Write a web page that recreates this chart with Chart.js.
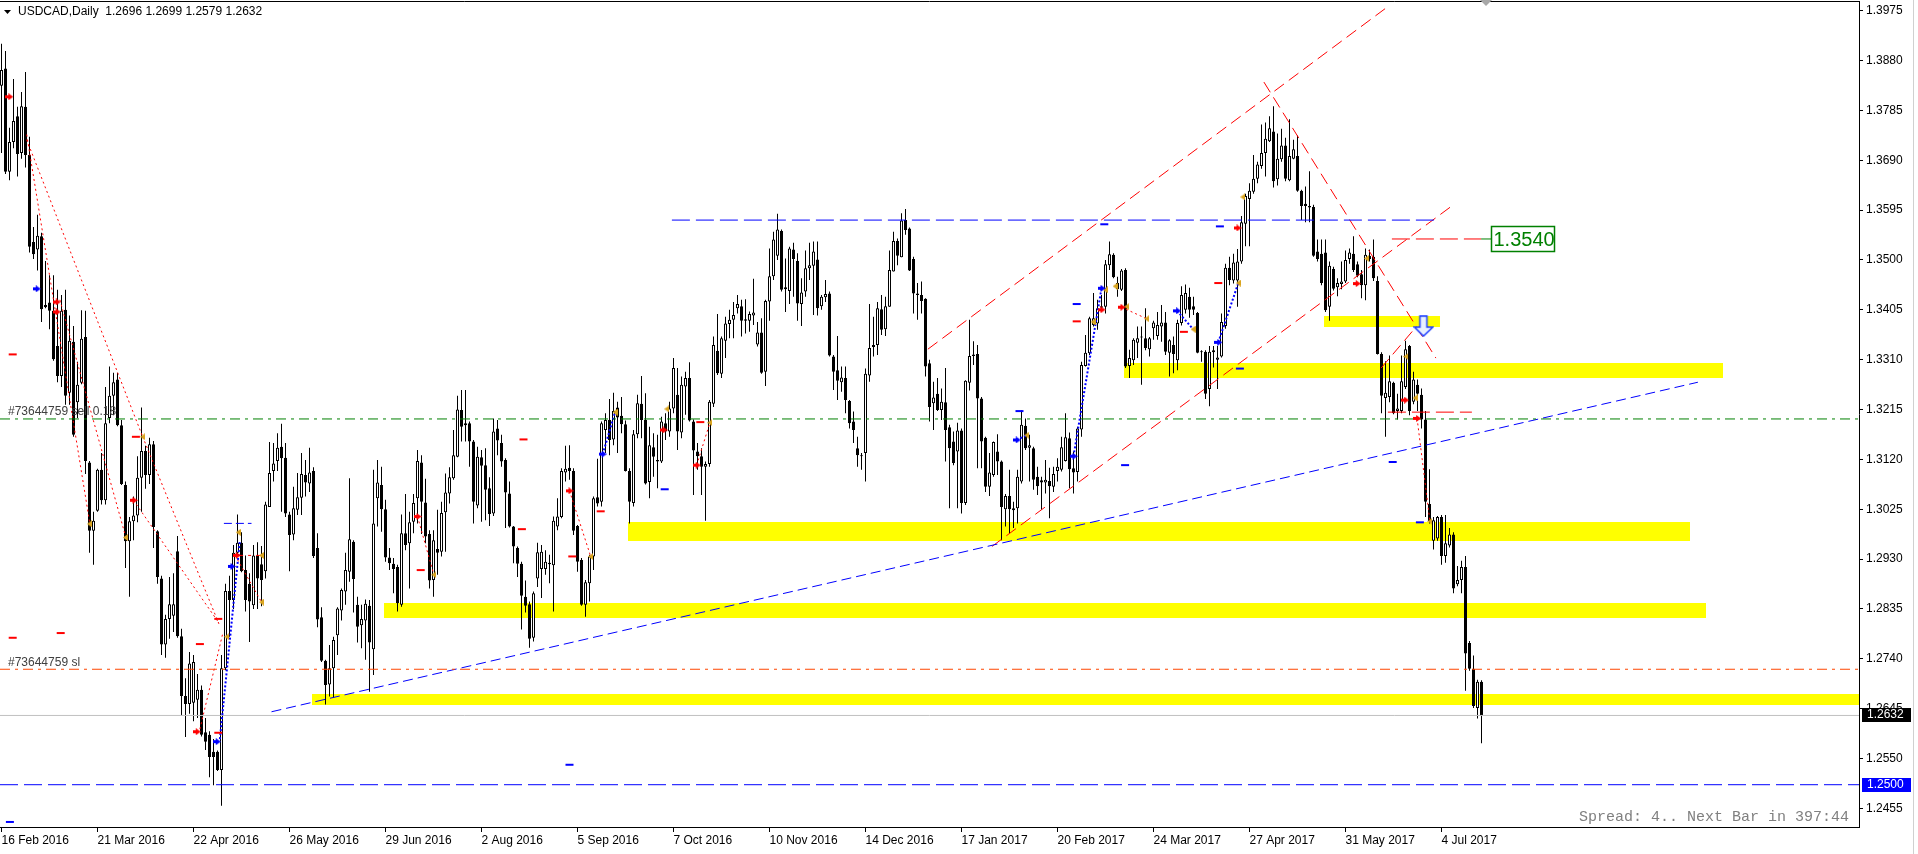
<!DOCTYPE html>
<html><head><meta charset="utf-8">
<script src="https://cdn.jsdelivr.net/npm/chart.js@4.4.0/dist/chart.umd.min.js"></script>
<style>html,body{margin:0;padding:0;background:#fff;overflow:hidden}canvas{display:block}</style>
</head><body>
<canvas id="c" width="1918" height="854"></canvas>
<script>
// ---------------- DATA ----------------
const symbolTitle = 'USDCAD,Daily  1.2696 1.2699 1.2579 1.2632';
const dateLabels = ['16 Feb 2016','21 Mar 2016','22 Apr 2016','26 May 2016','29 Jun 2016','2 Aug 2016','5 Sep 2016','7 Oct 2016','10 Nov 2016','14 Dec 2016','17 Jan 2017','20 Feb 2017','24 Mar 2017','27 Apr 2017','31 May 2017','4 Jul 2017'];
const dateBars = [0,24,48,72,96,120,144,168,192,216,240,264,288,312,336,360];
const priceTicks = [1.3975,1.3880,1.3785,1.3690,1.3595,1.3500,1.3405,1.3310,1.3215,1.3120,1.3025,1.2930,1.2835,1.2740,1.2645,1.2550,1.2455];

const opens = [
1.3832,1.3865,1.3668,1.3725,1.3774,1.3704,1.3792,1.3700,1.3534,1.3520,
1.3545,1.3414,1.3419,1.3403,1.3336,1.3279,1.3405,1.3247,1.3344,1.3229,
1.3266,1.3353,1.3114,1.2984,1.3022,1.3100,1.3042,1.3199,1.3241,1.3272,
1.3185,1.3071,1.2964,1.3002,1.3013,1.3085,1.3136,1.3090,1.3149,1.2983,
1.2893,1.2767,1.2816,1.2822,1.2945,1.2783,1.2669,1.2654,1.2656,1.2662,
1.2681,1.2600,1.2595,1.2563,1.2563,1.2528,1.2722,1.2869,1.2852,1.2942,
1.2961,1.2909,1.2883,1.2842,1.2937,1.2920,1.2907,1.3029,1.3098,1.3117,
1.3144,1.3123,1.3015,1.2977,1.3024,1.3047,1.3090,1.3074,1.3098,1.2951,
1.2819,1.2736,1.2691,1.2722,1.2785,1.2832,1.2868,1.2906,1.2963,1.2843,
1.2804,1.2813,1.2841,1.2758,1.3046,1.3071,1.3025,1.2933,1.2921,1.2915,
1.2843,1.2979,1.2960,1.3001,1.3046,1.3114,1.3038,1.2978,1.2890,1.2949,
1.2944,1.3019,1.3055,1.3084,1.3125,1.3214,1.3189,1.3189,1.3154,1.3032,
1.3124,1.3109,1.3065,1.3017,1.3179,1.3151,1.3119,1.3055,1.2992,1.2951,
1.2921,1.2858,1.2844,1.2780,1.2893,1.2911,1.2911,1.2923,1.2918,1.2992,
1.3010,1.3095,1.3104,1.3098,1.2993,1.2928,1.2843,1.2884,1.2935,1.3048,
1.3039,1.3176,1.3195,1.3158,1.3219,1.3203,1.3187,1.3098,1.3037,1.3168,
1.3226,1.3195,1.3077,1.3143,1.3119,1.3116,1.3189,1.3173,1.3217,1.3243,
1.3171,1.3259,1.3275,1.3192,1.3135,1.3126,1.3106,1.3111,1.3226,1.3327,
1.3283,1.3346,1.3378,1.3386,1.3408,1.3412,1.3387,1.3384,1.3394,1.3339,
1.3362,1.3287,1.3421,1.3469,1.3508,1.3555,1.3448,1.3441,1.3520,1.3498,
1.3416,1.3440,1.3484,1.3489,1.3501,1.3412,1.3429,1.3436,1.3316,1.3290,
1.3267,1.3275,1.3231,1.3192,1.3141,1.3128,1.3132,1.3280,1.3334,1.3338,
1.3406,1.3368,1.3411,1.3478,1.3536,1.3505,1.3576,1.3560,1.3502,1.3436,
1.3433,1.3426,1.3303,1.3227,1.3245,1.3214,1.3229,1.3181,1.3154,1.3135,
1.3175,1.3037,1.3266,1.3317,1.3321,1.3236,1.3161,1.3068,1.3090,1.3135,
1.3116,1.3025,1.3050,1.3023,1.3027,1.3078,1.3184,1.3142,1.3141,1.3087,
1.3080,1.3076,1.3079,1.3068,1.3098,1.3100,1.3117,1.3160,1.3103,1.3096,
1.3177,1.3298,1.3322,1.3376,1.3379,1.3409,1.3411,1.3490,1.3510,1.3456,
1.3443,1.3481,1.3298,1.3309,1.3342,1.3354,1.3351,1.3330,1.3370,1.3355,
1.3373,1.3381,1.3323,1.3338,1.3309,1.3380,1.3405,1.3430,1.3412,1.3399,
1.3325,1.3325,1.3254,1.3328,1.3310,1.3316,1.3374,1.3485,1.3461,1.3461,
1.3497,1.3569,1.3616,1.3630,1.3655,1.3679,1.3704,1.3726,1.3745,1.3654,
1.3692,1.3718,1.3652,1.3693,1.3698,1.3632,1.3607,1.3603,1.3601,1.3516,
1.3512,1.3514,1.3411,1.3483,1.3448,1.3454,1.3459,1.3502,1.3512,1.3492,
1.3473,1.3452,1.3508,1.3506,1.3460,1.3321,1.3237,1.3239,1.3266,1.3212,
1.3212,1.3258,1.3336,1.3230,1.3262,1.3243,1.3196,1.3035,1.2965,1.2969,
1.3010,1.2936,1.2956,1.2977,1.2882,1.2890,1.2915,1.2770,1.2721,1.2646,
1.2696];
const highs = [
1.3912,1.3898,1.3752,1.3845,1.3792,1.3820,1.3858,1.3735,1.3563,1.3586,
1.3552,1.3498,1.3471,1.3471,1.3443,1.3433,1.3443,1.3394,1.3374,1.3306,
1.3404,1.3403,1.3117,1.3020,1.3102,1.3132,1.3258,1.3297,1.3285,1.3285,
1.3195,1.3078,1.3010,1.3049,1.3126,1.3219,1.3146,1.3161,1.3155,1.2985,
1.2898,1.2824,1.2896,1.2903,1.2974,1.2797,1.2703,1.2753,1.2747,1.2711,
1.2689,1.2627,1.2602,1.2587,1.2565,1.2747,1.2883,1.2898,1.2957,1.3015,
1.2981,1.2937,1.2903,1.2957,1.2962,1.2955,1.3039,1.3153,1.3151,1.3170,
1.3188,1.3151,1.3020,1.3068,1.3094,1.3132,1.3119,1.3142,1.3105,1.2979,
1.2838,1.2738,1.2766,1.2782,1.2838,1.2874,1.2942,1.3084,1.2966,1.2858,
1.2843,1.2853,1.2852,1.3100,1.3119,1.3106,1.3043,1.2951,1.2932,1.2919,
1.3015,1.3054,1.3020,1.3054,1.3138,1.3128,1.3083,1.2985,1.2985,1.3024,
1.3039,1.3093,1.3105,1.3176,1.3241,1.3252,1.3252,1.3192,1.3157,1.3144,
1.3138,1.3141,1.3086,1.3198,1.3195,1.3167,1.3122,1.3078,1.2993,1.2954,
1.2925,1.2889,1.2849,1.2868,1.2961,1.2957,1.2947,1.2938,1.3011,1.3046,
1.3103,1.3146,1.3147,1.3103,1.2995,1.2932,1.2890,1.2938,1.3049,1.3121,
1.3192,1.3208,1.3235,1.3247,1.3230,1.3239,1.3194,1.3103,1.3176,1.3243,
1.3279,1.3246,1.3182,1.3170,1.3167,1.3201,1.3208,1.3230,1.3313,1.3294,
1.3278,1.3287,1.3305,1.3196,1.3151,1.3141,1.3116,1.3233,1.3354,1.3397,
1.3354,1.3392,1.3405,1.3420,1.3433,1.3424,1.3425,1.3402,1.3464,1.3382,
1.3389,1.3424,1.3522,1.3554,1.3588,1.3558,1.3503,1.3525,1.3533,1.3513,
1.3465,1.3518,1.3533,1.3535,1.3535,1.3433,1.3462,1.3440,1.3319,1.3355,
1.3297,1.3297,1.3233,1.3211,1.3163,1.3132,1.3293,1.3416,1.3392,1.3420,
1.3433,1.3430,1.3518,1.3554,1.3541,1.3589,1.3597,1.3562,1.3506,1.3456,
1.3459,1.3427,1.3310,1.3268,1.3275,1.3255,1.3294,1.3186,1.3173,1.3190,
1.3179,1.3271,1.3386,1.3345,1.3338,1.3239,1.3163,1.3132,1.3154,1.3168,
1.3118,1.3054,1.3100,1.3039,1.3100,1.3213,1.3198,1.3167,1.3144,1.3106,
1.3087,1.3119,1.3104,1.3106,1.3122,1.3163,1.3208,1.3171,1.3135,1.3182,
1.3306,1.3357,1.3392,1.3437,1.3424,1.3433,1.3500,1.3535,1.3513,1.3468,
1.3483,1.3484,1.3329,1.3351,1.3373,1.3373,1.3408,1.3353,1.3384,1.3401,
1.3414,1.3401,1.3349,1.3354,1.3386,1.3450,1.3453,1.3447,1.3430,1.3401,
1.3328,1.3328,1.3336,1.3336,1.3336,1.3398,1.3493,1.3506,1.3512,1.3521,
1.3584,1.3626,1.3646,1.3700,1.3687,1.3758,1.3762,1.3774,1.3793,1.3741,
1.3750,1.3733,1.3768,1.3729,1.3737,1.3634,1.3640,1.3669,1.3605,1.3539,
1.3539,1.3539,1.3497,1.3487,1.3465,1.3497,1.3518,1.3522,1.3545,1.3497,
1.3481,1.3522,1.3520,1.3539,1.3469,1.3324,1.3307,1.3318,1.3268,1.3245,
1.3318,1.3346,1.3338,1.3287,1.3272,1.3255,1.3212,1.3101,1.3010,1.3012,
1.3014,1.3014,1.2989,1.2981,1.2917,1.2927,1.2936,1.2774,1.2746,1.2700,
1.2699];
const lows = [
1.3704,1.3664,1.3652,1.3713,1.3659,1.3693,1.3676,1.3514,1.3502,1.3480,
1.3382,1.3408,1.3368,1.3308,1.3267,1.3258,1.3224,1.3224,1.3163,1.3199,
1.3263,1.3092,1.2942,1.2919,1.3020,1.3034,1.3034,1.3189,1.3204,1.3183,
1.3071,1.2913,1.2858,1.2966,1.3000,1.3020,1.3064,1.3073,1.2951,1.2883,
1.2747,1.2742,1.2778,1.2791,1.2780,1.2631,1.2591,1.2635,1.2621,1.2627,
1.2592,1.2566,1.2514,1.2499,1.2526,1.2460,1.2718,1.2782,1.2835,1.2937,
1.2905,1.2830,1.2772,1.2835,1.2835,1.2840,1.2893,1.3029,1.3078,1.3098,
1.3020,1.3010,1.2907,1.2966,1.3014,1.3014,1.3049,1.3058,1.2932,1.2800,
1.2734,1.2653,1.2668,1.2665,1.2747,1.2813,1.2843,1.2887,1.2828,1.2771,
1.2760,1.2738,1.2677,1.2709,1.2992,1.2982,1.2925,1.2909,1.2865,1.2830,
1.2839,1.2947,1.2874,1.2979,1.2998,1.2978,1.2960,1.2874,1.2858,1.2900,
1.2935,1.2944,1.3036,1.3081,1.3124,1.3154,1.3154,1.3106,1.2998,1.3027,
1.3001,1.3004,1.2993,1.3012,1.3128,1.3106,1.2989,1.2990,1.2922,1.2896,
1.2796,1.2828,1.2761,1.2773,1.2877,1.2856,1.2900,1.2884,1.2830,1.2985,
1.3008,1.3078,1.3081,1.2976,1.2906,1.2841,1.2820,1.2849,1.2909,1.3030,
1.3030,1.3132,1.3128,1.3147,1.3132,1.3170,1.3097,1.2998,1.3030,1.3160,
1.3160,1.3072,1.3046,1.3087,1.3065,1.3113,1.3157,1.3163,1.3208,1.3138,
1.3160,1.3205,1.3192,1.3052,1.3100,1.3052,1.3003,1.3106,1.3220,1.3281,
1.3275,1.3313,1.3351,1.3351,1.3398,1.3354,1.3360,1.3363,1.3376,1.3335,
1.3283,1.3260,1.3384,1.3462,1.3500,1.3440,1.3401,1.3416,1.3430,1.3384,
1.3374,1.3430,1.3462,1.3395,1.3394,1.3405,1.3420,1.3316,1.3252,1.3233,
1.3249,1.3208,1.3179,1.3151,1.3106,1.3100,1.3078,1.3268,1.3316,1.3319,
1.3357,1.3355,1.3411,1.3478,1.3490,1.3505,1.3548,1.3479,1.3398,1.3386,
1.3398,1.3278,1.3192,1.3176,1.3212,1.3195,1.3116,1.3027,1.3109,1.3027,
1.3017,1.3033,1.3251,1.3300,1.3103,1.3103,1.3058,1.3050,1.3087,1.3090,
1.2966,1.2992,1.2979,1.2989,1.2998,1.3074,1.3138,1.3078,1.3062,1.3052,
1.3024,1.3055,1.3008,1.3058,1.3078,1.3097,1.3116,1.3065,1.3055,1.3078,
1.3163,1.3297,1.3319,1.3373,1.3367,1.3405,1.3398,1.3481,1.3465,1.3430,
1.3441,1.3294,1.3275,1.3300,1.3313,1.3262,1.3328,1.3316,1.3348,1.3348,
1.3344,1.3319,1.3278,1.3284,1.3290,1.3375,1.3398,1.3390,1.3395,1.3322,
1.3306,1.3235,1.3221,1.3295,1.3254,1.3314,1.3369,1.3452,1.3455,1.3411,
1.3493,1.3526,1.3526,1.3626,1.3646,1.3674,1.3659,1.3725,1.3638,1.3642,
1.3687,1.3650,1.3650,1.3692,1.3630,1.3576,1.3572,1.3572,1.3506,1.3497,
1.3452,1.3401,1.3384,1.3442,1.3431,1.3444,1.3456,1.3493,1.3477,1.3467,
1.3427,1.3423,1.3497,1.3460,1.3320,1.3208,1.3163,1.3229,1.3206,1.3196,
1.3208,1.3254,1.3204,1.3225,1.3212,1.3179,1.3010,1.2998,1.2948,1.2965,
1.2919,1.2923,1.2952,1.2865,1.2878,1.2865,1.2679,1.2717,1.2646,1.2626,
1.2579];
const closes = [
1.3862,1.3668,1.3725,1.3765,1.3702,1.3793,1.3700,1.3525,1.3511,1.3546,
1.3406,1.3410,1.3403,1.3311,1.3279,1.3403,1.3241,1.3346,1.3167,1.3262,
1.3350,1.3117,1.2984,1.3003,1.3100,1.3042,1.3189,1.3241,1.3267,1.3185,
1.3073,1.2964,1.3002,1.3013,1.3085,1.3136,1.3090,1.3149,1.2991,1.2896,
1.2767,1.2816,1.2844,1.2844,1.2783,1.2669,1.2654,1.2731,1.2734,1.2681,
1.2595,1.2582,1.2553,1.2553,1.2528,1.2722,1.2869,1.2852,1.2942,1.2961,
1.2907,1.2852,1.2849,1.2937,1.2893,1.2890,1.3034,1.3094,1.3112,1.3142,
1.3122,1.3017,1.2976,1.3027,1.3048,1.3092,1.3076,1.3095,1.2936,1.2815,
1.2736,1.2690,1.2722,1.2776,1.2836,1.2871,1.2909,1.2968,1.2892,1.2801,
1.2816,1.2845,1.2771,1.2998,1.3076,1.3025,1.2933,1.2922,1.2911,1.2846,
1.2979,1.2957,1.3000,1.3037,1.3117,1.3039,1.2973,1.2889,1.2966,1.2942,
1.3018,1.3057,1.3086,1.3128,1.3215,1.3182,1.3185,1.3154,1.3039,1.3125,
1.3108,1.3062,1.3016,1.3173,1.3156,1.3116,1.3057,1.2992,1.2954,1.2921,
1.2860,1.2841,1.2778,1.2865,1.2943,1.2944,1.2925,1.2920,1.3003,1.3011,
1.3098,1.3102,1.3098,1.2984,1.2925,1.2843,1.2886,1.2935,1.3046,1.3036,
1.3189,1.3195,1.3157,1.3212,1.3200,1.3187,1.3098,1.3039,1.3168,1.3227,
1.3195,1.3074,1.3147,1.3125,1.3116,1.3192,1.3173,1.3217,1.3294,1.3173,
1.3262,1.3275,1.3194,1.3137,1.3126,1.3106,1.3111,1.3230,1.3338,1.3284,
1.3351,1.3379,1.3386,1.3395,1.3416,1.3384,1.3384,1.3397,1.3400,1.3362,
1.3285,1.3422,1.3469,1.3539,1.3558,1.3443,1.3444,1.3522,1.3502,1.3417,
1.3438,1.3484,1.3490,1.3516,1.3408,1.3430,1.3435,1.3318,1.3287,1.3270,
1.3276,1.3233,1.3189,1.3176,1.3128,1.3126,1.3283,1.3332,1.3338,1.3408,
1.3367,1.3412,1.3481,1.3536,1.3508,1.3575,1.3557,1.3480,1.3436,1.3433,
1.3422,1.3297,1.3220,1.3238,1.3214,1.3230,1.3176,1.3141,1.3113,1.3175,
1.3037,1.3270,1.3317,1.3320,1.3236,1.3154,1.3068,1.3095,1.3153,1.3116,
1.3029,1.3050,1.3025,1.3027,1.3087,1.3186,1.3141,1.3147,1.3081,1.3069,
1.3076,1.3081,1.3069,1.3092,1.3106,1.3143,1.3162,1.3101,1.3095,1.3179,
1.3300,1.3323,1.3389,1.3389,1.3408,1.3412,1.3492,1.3511,1.3467,1.3444,
1.3480,1.3297,1.3313,1.3348,1.3351,1.3352,1.3332,1.3351,1.3381,1.3376,
1.3381,1.3325,1.3347,1.3321,1.3380,1.3433,1.3437,1.3405,1.3405,1.3323,
1.3324,1.3245,1.3325,1.3324,1.3314,1.3382,1.3485,1.3462,1.3495,1.3497,
1.3572,1.3622,1.3632,1.3655,1.3682,1.3704,1.3731,1.3751,1.3650,1.3693,
1.3718,1.3655,1.3698,1.3711,1.3632,1.3603,1.3603,1.3600,1.3508,1.3502,
1.3456,1.3404,1.3489,1.3445,1.3456,1.3459,1.3500,1.3514,1.3481,1.3470,
1.3452,1.3510,1.3502,1.3465,1.3321,1.3241,1.3247,1.3269,1.3208,1.3217,
1.3269,1.3330,1.3212,1.3272,1.3245,1.3196,1.3039,1.3002,1.3004,1.3010,
1.2936,1.2960,1.2977,1.2874,1.2890,1.2915,1.2750,1.2721,1.2650,1.2696,
1.2632];

// horizontal levels
const alertLevel = 1.2500, lastPrice = 1.2632, sellLevel = 1.3197, slLevel = 1.2720;
const sellText = '#73644759 sell 0.18', slText = '#73644759 sl';
// yellow zones: [fromBar, toBar, low, high]
const zones = [[77.6,464.6,1.2652,1.2673],[95.6,426.1,1.2818,1.2847],[156.6,422.1,1.2965,1.3001],[280.6,430.4,1.3276,1.3304],[330.6,359.6,1.3373,1.3394]];
// trend lines: [bar0, price0, bar1, price1]
const blueTrend = [67.5,1.2639,424.1,1.3267];
const blueResist = [167.6,1.3576,358.6,1.3576];
const channelUpper = [231.6,1.3330,346.1,1.3980];
const channelLower = [247.6,1.2954,362.6,1.3603];
const redFall = [315.6,1.3839,358.6,1.3313];
const redShortUp = [344.9,1.3294,353.6,1.3372];
const redLevel3210 = [346.6,1.3210,367.6,1.3210];
const targetLine = [347.6,1.3540,369.9,1.3540];
const targetLabel = [372.4,1.3540,'1.3540'];
const blueShortLevel = [55.6,1.2998,62.5,1.2998];
const redShortLevel = [57.9,1.2937,65.4,1.2937];
// trade history dotted lines
const redDotted = [
 [6.3,1.3729,35.3,1.3163],[6.3,1.3739,22.1,1.2997],[14.6,1.3424,31.1,1.2971],[35.3,1.3163,54.6,1.2802],
 [33.0,1.3042,54.2,1.2810],[49.6,1.2606,55.4,1.2791],[58.4,1.2937,65.0,1.2848],[104,1.3011,108.1,1.2900],
 [142,1.3060,147.3,1.2935],[173.8,1.3109,177.1,1.3190],[280,1.3410,286.3,1.3388],[353.9,1.3198,357.1,1.3002]];
const blueDotted = [
 [54.6,1.2587,59.6,1.2966],[150.3,1.3130,153.4,1.3210],[253.8,1.3157,256.3,1.3166],[268,1.3126,275,1.3446],
 [293.9,1.3403,297.9,1.3368],[304.2,1.3343,309.2,1.3456]];
// markers [bar, price]
const redArrows = [[1.95,1.3811],[13.8,1.3420],[13.8,1.3401],[33,1.3042],[48.8,1.2601],[58.8,1.2937],[104,1.3011],[142,1.3060],[165.5,1.3176],[173.8,1.3109],[275,1.3405],[280,1.3410],[309,1.3561],[338.8,1.3455],[350.9,1.3233],[353.9,1.3198]];
const blueArrows = [[8.8,1.3445],[53.8,1.2582],[57.5,1.2916],[150.3,1.3130],[253.8,1.3157],[268,1.3126],[275,1.3446],[293.9,1.3403],[304.2,1.3343]];
const closeMarks = [[22,1.2997],[31,1.2971],[35.3,1.3163],[56.3,1.2782],[59.2,1.2981],[65,1.2937],[65,1.2848],[108.1,1.2900],[147.3,1.2935],[153.4,1.3210],[166.3,1.3216],[177.1,1.3190],[256.3,1.3166],[272.9,1.3382],[276,1.3443],[278.4,1.3450],[281.3,1.3411],[286.3,1.3388],[297.9,1.3368],[309.2,1.3456],[310.3,1.3620],[341.3,1.3503],[351.1,1.3316],[353.4,1.3237],[357.1,1.3002]];
const redDashes = [[2.8,1.3320],[2.8,1.2780],[14.8,1.2789],[49.6,1.2768],[54.2,1.2599],[33.6,1.3163],[54.2,1.2816],[130.5,1.3158],[130.1,1.2987],[104.8,1.2909],[142.7,1.2935],[149.8,1.3021],[174.7,1.3191],[268.8,1.3383],[295.6,1.3363],[304.2,1.3456]];
const blueDashes = [[2.1,1.2429],[142,1.2538],[165.8,1.3063],[268.8,1.3416],[280.9,1.3109],[275.7,1.3568],[309.6,1.3293],[304.6,1.3564],[347.8,1.3115],[354.6,1.3000],[254.5,1.3212]];
const sellSignal = [[355.6,1.3374]];
const spreadText = 'Spread: 4.. Next Bar in 397:44';

// ---------------- CHART ----------------
const XMIN = -0.375, XMAX = 464.375, YMIN = 1.24194, YMAX = 1.39935;
function mk(w,h,draw){const c=document.createElement('canvas');c.width=w;c.height=h;draw(c.getContext('2d'));return c;}
function arrowImg(col){return mk(8,7,g=>{g.fillStyle=col;g.fillRect(0,2,4,3);g.beginPath();g.moveTo(3,0);g.lineTo(8,3.5);g.lineTo(3,7);g.closePath();g.fill();});}
const triImg = mk(5,7,g=>{g.fillStyle='#daa520';g.beginPath();g.moveTo(5,0);g.lineTo(0,3.5);g.lineTo(5,7);g.closePath();g.fill();});
const bigArrow = mk(21,22,g=>{g.fillStyle='#e8f0ff';g.strokeStyle='#1a3cff';g.lineWidth=1.5;g.beginPath();
 g.moveTo(6.5,1);g.lineTo(13.5,1);g.lineTo(13.5,12);g.lineTo(19.5,12);g.lineTo(10,21);g.lineTo(1,12);g.lineTo(6.5,12);g.closePath();g.fill();g.stroke();});

const P = a => a.map(p=>({x:p[0],y:p[1]}));
function seg(s,color,dash,width,order){return {type:'line',data:[{x:s[0],y:s[1]},{x:s[2],y:s[3]}],borderColor:color,borderWidth:width||1,borderDash:dash||[],pointRadius:0,fill:false,tension:0,order:order||2};}
function marks(pts,style,extra){return Object.assign({type:'line',data:P(pts),showLine:false,pointStyle:style,pointRadius:3,pointBorderWidth:0,order:1},extra||{});}

const datasets = [];
datasets.push({type:'bar',data:opens.map((o,i)=>({x:i,y:[o,closes[i]]})),
  backgroundColor:opens.map((o,i)=>closes[i]>=o?'#ffffff':'#000000'),borderColor:'#000000',borderWidth:1,
  borderSkipped:false,barThickness:3,grouped:false,inflateAmount:0,minBarLength:1,order:5});
datasets.push({type:'bar',data:lows.map((l,i)=>({x:i,y:[l,highs[i]]})),backgroundColor:'#000000',
  borderWidth:0,barThickness:1,grouped:false,inflateAmount:0,order:6});
datasets.push(seg([XMIN,lastPrice,XMAX,lastPrice],'#c0c0c0',[],1,4));
datasets.push(seg([XMIN,alertLevel,XMAX,alertLevel],'#0000ff',[18,6]));
datasets.push(seg([XMIN,sellLevel,XMAX,sellLevel],'#008000',[10,5,3,5]));
datasets.push(seg([XMIN,slLevel,XMAX,slLevel],'#ff4500',[10,5,3,5]));
datasets.push(seg(blueTrend,'#0000ff',[10,5]));
datasets.push(seg(blueResist,'#0000ff',[18,6]));
datasets.push(seg(channelUpper,'#ff0000',[12,6]));
datasets.push(seg(channelLower,'#ff0000',[12,6]));
datasets.push(seg(redFall,'#ff0000',[12,6]));
datasets.push(seg(redShortUp,'#ff0000',[12,6]));
datasets.push(seg(redLevel3210,'#ff0000',[18,6]));
datasets.push(seg(targetLine,'#ff0000',[18,6]));
datasets.push(seg([targetLine[2],targetLine[3],targetLabel[0],targetLabel[1]],'#008000',[],1));
datasets.push(seg(blueShortLevel,'#0000ff',[8,4]));
datasets.push(seg(redShortLevel,'#ff0000',[10,5,3,5]));
redDotted.forEach(s=>datasets.push(seg(s,'#ff0000',[2,3],1)));
blueDotted.forEach(s=>datasets.push(seg(s,'#0000ff',[2,2],2)));
datasets.push(marks(redDashes,'line',{pointRadius:4,pointBorderWidth:2,pointBorderColor:'#ff0000'}));
datasets.push(marks(blueDashes,'line',{pointRadius:4,pointBorderWidth:2,pointBorderColor:'#0000ff'}));
datasets.push(marks(redArrows,arrowImg('#ff0000')));
datasets.push(marks(blueArrows,arrowImg('#0000ff')));
datasets.push(marks(closeMarks,triImg));
datasets.push(marks(sellSignal,bigArrow));

const overlay = {
  id:'overlay',
  beforeDatasetsDraw(chart){
    const {ctx,chartArea:a,scales:{x,y}} = chart;
    ctx.save();ctx.beginPath();ctx.rect(a.left,a.top,a.right-a.left,a.bottom-a.top);ctx.clip();
    ctx.fillStyle='#ffff00';
    zones.forEach(z=>{const x0=Math.round(x.getPixelForValue(z[0])),x1=Math.round(x.getPixelForValue(z[1]));
      const y0=Math.round(y.getPixelForValue(z[3])),y1=Math.round(y.getPixelForValue(z[2]));ctx.fillRect(x0,y0,x1-x0,y1-y0);});
    ctx.restore();
  },
  afterDraw(chart){
    const {ctx,chartArea:a,scales:{x,y}} = chart;
    ctx.save();
    ctx.strokeStyle='#000';ctx.lineWidth=1;ctx.beginPath();ctx.moveTo(0,a.top+0.5);ctx.lineTo(a.right,a.top+0.5);ctx.stroke();
    ctx.strokeStyle='#d0d0d0';ctx.beginPath();ctx.moveTo(1913.5,0);ctx.lineTo(1913.5,854);ctx.stroke();
    ctx.fillStyle='#000';ctx.beginPath();ctx.moveTo(4,10);ctx.lineTo(11,10);ctx.lineTo(7.5,14);ctx.closePath();ctx.fill();
    ctx.font='12px "Liberation Sans"';ctx.textBaseline='middle';ctx.textAlign='left';
    ctx.fillText(symbolTitle,18,12);
    ctx.fillStyle='#404040';
    ctx.fillText(sellText,8,y.getPixelForValue(sellLevel)-7);
    ctx.fillText(slText,8,y.getPixelForValue(slLevel)-7);
    const bx=Math.round(x.getPixelForValue(targetLabel[0]))+0.5, by=Math.round(y.getPixelForValue(targetLabel[1]));
    ctx.fillStyle='#fff';ctx.fillRect(bx,by-12,63,25);ctx.strokeStyle='#008000';ctx.lineWidth=1.5;ctx.strokeRect(bx,by-12.5,63,25);
    ctx.fillStyle='#008000';ctx.font='20px "Liberation Sans"';ctx.fillText(targetLabel[2],bx+2,by+1);
    ctx.font='12px "Liberation Sans"';
    [[lastPrice,'#000000'],[alertLevel,'#0000ff']].forEach(([v,bg])=>{
      const py=Math.round(y.getPixelForValue(v));ctx.fillStyle=bg;ctx.fillRect(1862,py-7,49,14);
      ctx.fillStyle='#fff';ctx.fillText(v.toFixed(4),1867,py);});
    ctx.fillStyle='#a8a8a8';ctx.beginPath();ctx.moveTo(1480,0);ctx.lineTo(1492,0);ctx.lineTo(1486,6);ctx.closePath();ctx.fill();
    ctx.fillStyle='#808080';ctx.font='15px "Liberation Mono"';ctx.textAlign='left';
    ctx.fillText(spreadText,1579,817);
    ctx.restore();
  }
};

new Chart(document.getElementById('c'),{
  type:'bar',
  data:{datasets},
  options:{
    responsive:false,animation:false,devicePixelRatio:1,events:[],
    layout:{autoPadding:false,padding:{top:1,left:0,right:0,bottom:0}},
    plugins:{legend:{display:false},tooltip:{enabled:false}},
    scales:{
      x:{type:'linear',position:'bottom',min:XMIN,max:XMAX,offset:false,
        afterFit:s=>{s.height=27;s.paddingLeft=0;s.paddingRight=0;},
        afterBuildTicks:s=>{s.ticks=dateBars.map(v=>({value:v}));},
        ticks:{autoSkip:false,maxRotation:0,minRotation:0,align:'start',padding:1,color:'#000',
          font:{family:'Liberation Sans',size:12},callback:(v,i)=>dateLabels[i]},
        grid:{drawOnChartArea:false,drawTicks:true,tickLength:5,color:'#000',offset:false},
        border:{display:true,color:'#000',width:1}},
      y:{type:'linear',position:'right',min:YMIN,max:YMAX,
        afterFit:s=>{s.width=59;s.paddingTop=0;s.paddingBottom=0;},
        afterBuildTicks:s=>{s.ticks=priceTicks.map(v=>({value:v}));},
        ticks:{autoSkip:false,padding:3,color:'#000',font:{family:'Liberation Sans',size:12},callback:v=>Number(v).toFixed(4)},
        grid:{drawOnChartArea:false,drawTicks:true,tickLength:4,color:'#000'},
        border:{display:true,color:'#000',width:1}}
    }
  },
  plugins:[overlay]
});
</script></body></html>
